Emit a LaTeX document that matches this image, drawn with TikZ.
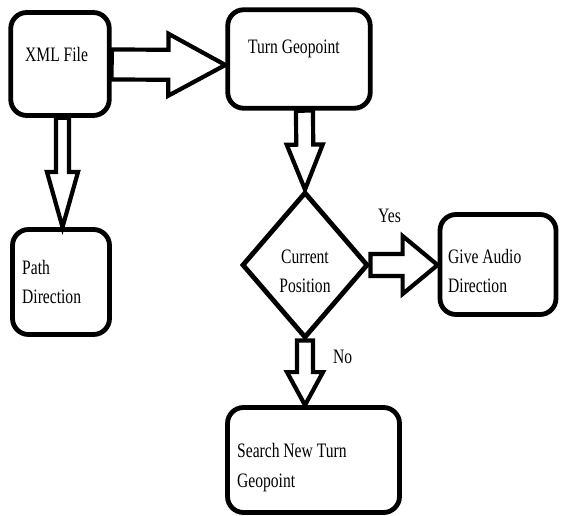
\documentclass[tikz,border=0pt]{standalone}
\usepackage{fontspec}
\setmainfont{Liberation Serif}[FakeStretch=0.76]
\usetikzlibrary{shapes.geometric,calc}
\tikzset{
  box/.style={draw, line width=4.8pt, rounded corners=16pt, fill=white, inner sep=0pt},
  dia/.style={draw, diamond, line width=4.8pt, inner sep=0pt, line join=miter},
  txt/.style={inner sep=0pt, align=left, font=\fontsize{20.5}{29.5}\selectfont},
  blk/.style={draw, fill=white, line width=4.2pt, line join=miter, miter limit=4}
}
\newcommand\blockarr[5]{%
  \coordinate (ba-p) at ($(#2)!#5!(#1)$);
  \draw[blk] ($(#1)!#3!90:(#2)$) -- ($(ba-p)!#3!90:(#2)$) -- ($(ba-p)!#4!90:(#2)$)
    -- (#2) -- ($(ba-p)!#4!-90:(#2)$) -- ($(ba-p)!#3!-90:(#2)$) -- ($(#1)!#3!-90:(#2)$) -- cycle;
}
\begin{document}
\begin{tikzpicture}[x=1pt,y=-1pt]
\useasboundingbox (0,0) rectangle (563,516);
% boxes
\node[box, minimum width=98.5pt, minimum height=103pt] (xml) at (60,64) {};
\node[box, minimum width=142.5pt, minimum height=98.5pt] (turn) at (299,59) {};
\node[box, minimum width=97pt, minimum height=105pt] (path) at (61,282) {};
\node[box, minimum width=116pt, minimum height=100pt] (give) at (498,264.5) {};
\node[box, minimum width=172pt, minimum height=105pt] (search) at (313.5,460) {};
\node[dia, minimum width=126pt, minimum height=146pt] (cur) at (305,265) {};
% texts (multi-line: base anchor is on the last line)
\node[txt, anchor=base west] (t-xml) at (25,62) {XML File};
\node[txt, anchor=base west] (t-turn) at (248,54) {Turn Geopoint};
\node[txt, anchor=base west] (t-path) at (22,304) {Path\\Direction};
\node[txt, anchor=base, align=center] (t-cur) at (305,293) {Current\\Position};
\node[txt, anchor=base west] (t-give) at (448,293) {Give Audio\\Direction};
\node[txt, anchor=base west] (t-search) at (237,487) {Search New Turn\\Geopoint};
\node[txt, anchor=base west] (yes) at (378,223) {Yes};
\node[txt, anchor=base west] (no) at (333,363) {No};
% connector end points
\coordinate (a1s) at (xml.east |- 0,64.5);
\coordinate (a1e) at (turn.west |- 0,65);
\coordinate (a2s) at (62.5,0 |- xml.south);
\coordinate (a2e) at (62.5,0 |- path.north);
\coordinate (a3s) at (304.5,0 |- turn.south);
\coordinate (a3e) at (cur.north);
\coordinate (a4s) at (cur.east);
\coordinate (a4e) at (give.west |- cur.east);
\coordinate (a5s) at (cur.south);
\coordinate (a5e) at (305,0 |- search.north);
% block arrows
\blockarr{a1s}{a1e}{15pt}{31pt}{57pt}
\blockarr{a2s}{a2e}{6.5pt}{15.5pt}{55pt}
\blockarr{a3s}{a3e}{8.5pt}{18pt}{45pt}
\blockarr{a4s}{a4e}{11pt}{29pt}{35pt}
\blockarr{a5s}{a5e}{8pt}{18pt}{33pt}
\end{tikzpicture}
\end{document}
